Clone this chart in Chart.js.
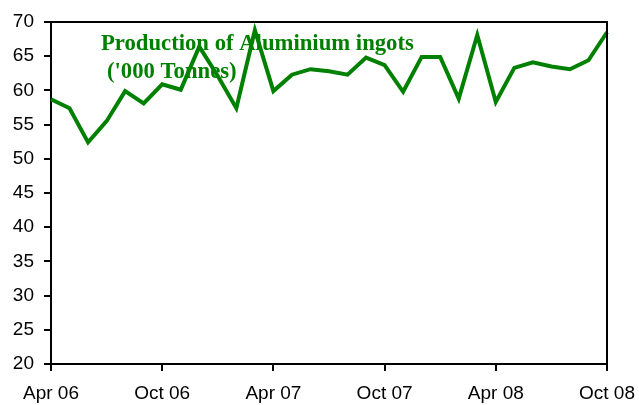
<!DOCTYPE html>
<html>
<head>
<meta charset="utf-8">
<script src="https://cdn.jsdelivr.net/npm/chart.js@4/dist/chart.umd.min.js"></script>
<style>
  html, body { margin: 0; padding: 0; background: #fff; }
  .wrap { width: 639px; height: 405px; }
</style>
</head>
<body>
<div class="wrap"><canvas id="c" width="639" height="405"></canvas></div>
<script>
// monthly series, Apr 06 .. Oct 08
const MONTHS = [
  'Apr 06','May 06','Jun 06','Jul 06','Aug 06','Sep 06','Oct 06','Nov 06','Dec 06','Jan 07','Feb 07','Mar 07',
  'Apr 07','May 07','Jun 07','Jul 07','Aug 07','Sep 07','Oct 07','Nov 07','Dec 07','Jan 08','Feb 08','Mar 08',
  'Apr 08','May 08','Jun 08','Jul 08','Aug 08','Sep 08','Oct 08'
];
const PRODUCTION = [
  58.7, 57.4, 52.4, 55.5, 59.9, 58.1, 60.9, 60.1, 66.4, 62.1, 57.4, 68.8,
  59.9, 62.3, 63.1, 62.8, 62.3, 64.8, 63.7, 59.8, 64.9, 64.9, 58.8, 68.1,
  58.3, 63.3, 64.1, 63.5, 63.1, 64.4, 68.5
];
const TITLE_LINES = ['Production of Aluminium ingots', "('000 Tonnes)"];

const GREEN = '#008000';
const AXIS_FONT = { family: 'Arial, "Liberation Sans", sans-serif', size: 19 };

// frame on top/right edges plus the inset title
const framePlugin = {
  id: 'frame',
  beforeDatasetsDraw(chart) {
    const { ctx } = chart;
    ctx.save();
    ctx.fillStyle = GREEN;
    ctx.font = 'bold 22.7px "Times New Roman", "Liberation Serif", serif';
    ctx.textBaseline = 'alphabetic';
    ctx.fillText(TITLE_LINES[0], 101, 50);
    ctx.fillText(TITLE_LINES[1], 107, 78);
    ctx.restore();
  },
  afterDraw(chart) {
    const { ctx, chartArea: a } = chart;
    ctx.save();
    ctx.strokeStyle = '#000';
    ctx.lineWidth = 2;
    ctx.beginPath();
    ctx.moveTo(a.left, a.top);
    ctx.lineTo(a.right, a.top);
    ctx.lineTo(a.right, a.bottom);
    ctx.stroke();
    ctx.restore();
  }
};

new Chart(document.getElementById('c'), {
  type: 'line',
  data: {
    labels: MONTHS,
    datasets: [{
      data: PRODUCTION,
      borderColor: GREEN,
      borderWidth: 4,
      pointRadius: 0,
      tension: 0,
      fill: false
    }]
  },
  options: {
    responsive: false,
    animation: false,
    layout: { padding: { top: 22, right: 32, left: 0, bottom: 0 } },
    plugins: { legend: { display: false }, tooltip: { enabled: false } },
    scales: {
      x: {
        offset: false,
        afterFit: s => { s.height = 41; s.paddingLeft = 0; s.paddingRight = 0; },
        border: { display: true, color: '#000', width: 2 },
        grid: {
          drawOnChartArea: false, drawTicks: true, tickLength: 7, lineWidth: 2,
          color: c => (c.index % 6 === 0 ? '#000' : 'rgba(0,0,0,0)')
        },
        ticks: {
          color: '#000', font: AXIS_FONT, autoSkip: false, maxRotation: 0, padding: 11,
          callback: (v, i) => (i % 6 === 0 ? MONTHS[i] : '')
        }
      },
      y: {
        min: 20, max: 70,
        afterFit: s => { s.width = 51; s.paddingTop = 0; s.paddingBottom = 0; },
        border: { display: true, color: '#000', width: 2 },
        grid: { drawOnChartArea: false, drawTicks: true, tickLength: 7, lineWidth: 2, color: '#000' },
        ticks: { color: '#000', font: AXIS_FONT, stepSize: 5, padding: 10 }
      }
    }
  },
  plugins: [framePlugin]
});
</script>
</body>
</html>
